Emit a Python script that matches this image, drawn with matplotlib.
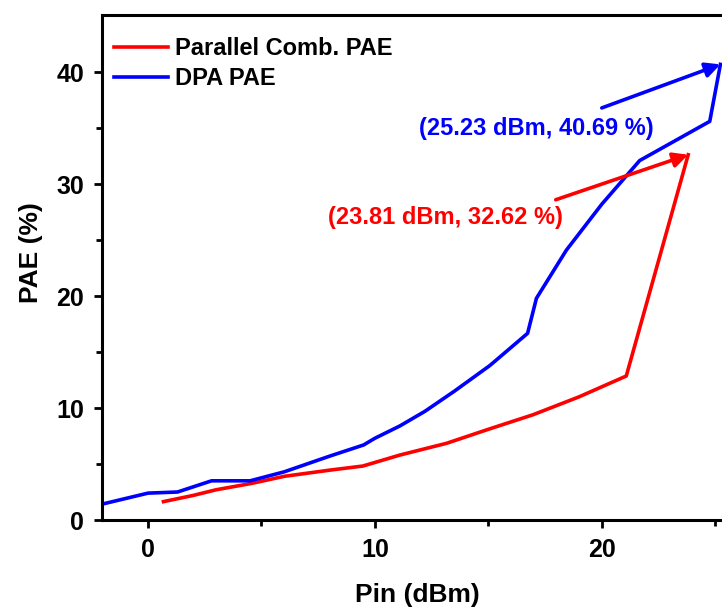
import numpy as np
import matplotlib.pyplot as plt
from matplotlib.ticker import MultipleLocator

plt.rcParams['font.family'] = ['Liberation Sans', 'DejaVu Sans']
plt.rcParams['font.weight'] = 'bold'

# DPA PAE
dpa_pin = [-2.0, 0.0, 1.3, 2.8, 4.5, 6.0, 7.0, 8.0, 9.5, 10.0, 11.1, 12.2,
           13.5, 15.07, 16.73, 17.12, 18.44, 20.0, 21.67, 24.76, 25.23]
dpa_pae = [1.43, 2.4, 2.5, 3.5, 3.5, 4.3, 5.0, 5.7, 6.7, 7.3, 8.4, 9.7,
           11.5, 13.8, 16.67, 19.8, 24.1, 28.2, 32.1, 35.6, 40.69]

# Parallel combined PAE
par_pin = [0.68, 2.0, 3.0, 4.57, 6.0, 8.0, 9.47, 11.1, 13.16, 15.0, 16.97,
           19.0, 21.08, 23.81]
par_pae = [1.64, 2.2, 2.7, 3.27, 3.9, 4.45, 4.82, 5.8, 6.85, 8.1, 9.4,
           11.0, 12.86, 32.62]

fig = plt.figure(figsize=(7.22, 6.08), dpi=100)
ax = fig.add_axes([102 / 722, 88 / 608, 1 - 102 / 722, 505 / 608])

ax.plot(par_pin, par_pae, color='#ff0000', lw=2.6, label='Parallel Comb. PAE')
ax.plot(dpa_pin, dpa_pae, color='#0000ff', lw=2.6, label='DPA PAE')

ax.set_xlim(-2.03, 25.3)
ax.set_ylim(0, 45.1)
ax.xaxis.set_major_locator(MultipleLocator(10))
ax.xaxis.set_minor_locator(MultipleLocator(5))
ax.set_yticks([0, 10, 20, 30, 40])
ax.set_yticks([5, 15, 25, 35], minor=True)

for s in ['left', 'bottom', 'top']:
    ax.spines[s].set_linewidth(2.2)
ax.spines['right'].set_visible(False)
ax.tick_params(which='major', length=6, width=2, labelsize=18, pad=7)
ax.tick_params(which='minor', length=4, width=2)
ax.tick_params(top=False, which='both')

ax.set_xlabel('Pin (dBm)', fontsize=19, fontweight='bold')
ax.set_ylabel('PAE (%)', fontsize=19, fontweight='bold')
ax.xaxis.set_label_coords((417 - 102) / 620, -(595 - 520) / 505)
ax.yaxis.set_label_coords(-(102 - 31) / 620, (520 - 253) / 505)
ax.xaxis.label.set_va('center')
ax.yaxis.label.set_va('center')

leg = ax.legend(loc='upper left', frameon=False, fontsize=17,
                handlelength=2.3, handletextpad=0.3, labelspacing=0.3,
                borderaxespad=0.0, borderpad=0.3,
                bbox_to_anchor=(0.008, 0.97))

# annotations
ax.annotate('', xy=(dpa_pin[-1], dpa_pae[-1]), xytext=(20.0, 36.8),
            arrowprops=dict(arrowstyle='-|>', color='#0000ff', lw=2.6,
                            mutation_scale=22, shrinkA=0, shrinkB=0))
ax.text(17.1, 35.0, '(25.23 dBm, 40.69 %)', color='#0000ff', fontsize=17,
        fontweight='bold', ha='center', va='center')

ax.annotate('', xy=(par_pin[-1], par_pae[-1]), xytext=(17.97, 28.6),
            arrowprops=dict(arrowstyle='-|>', color='#ff0000', lw=2.6,
                            mutation_scale=22, shrinkA=0, shrinkB=0))
ax.text(13.1, 27.0, '(23.81 dBm, 32.62 %)', color='#ff0000', fontsize=17,
        fontweight='bold', ha='center', va='center')

fig.savefig('out.png', dpi=100)
